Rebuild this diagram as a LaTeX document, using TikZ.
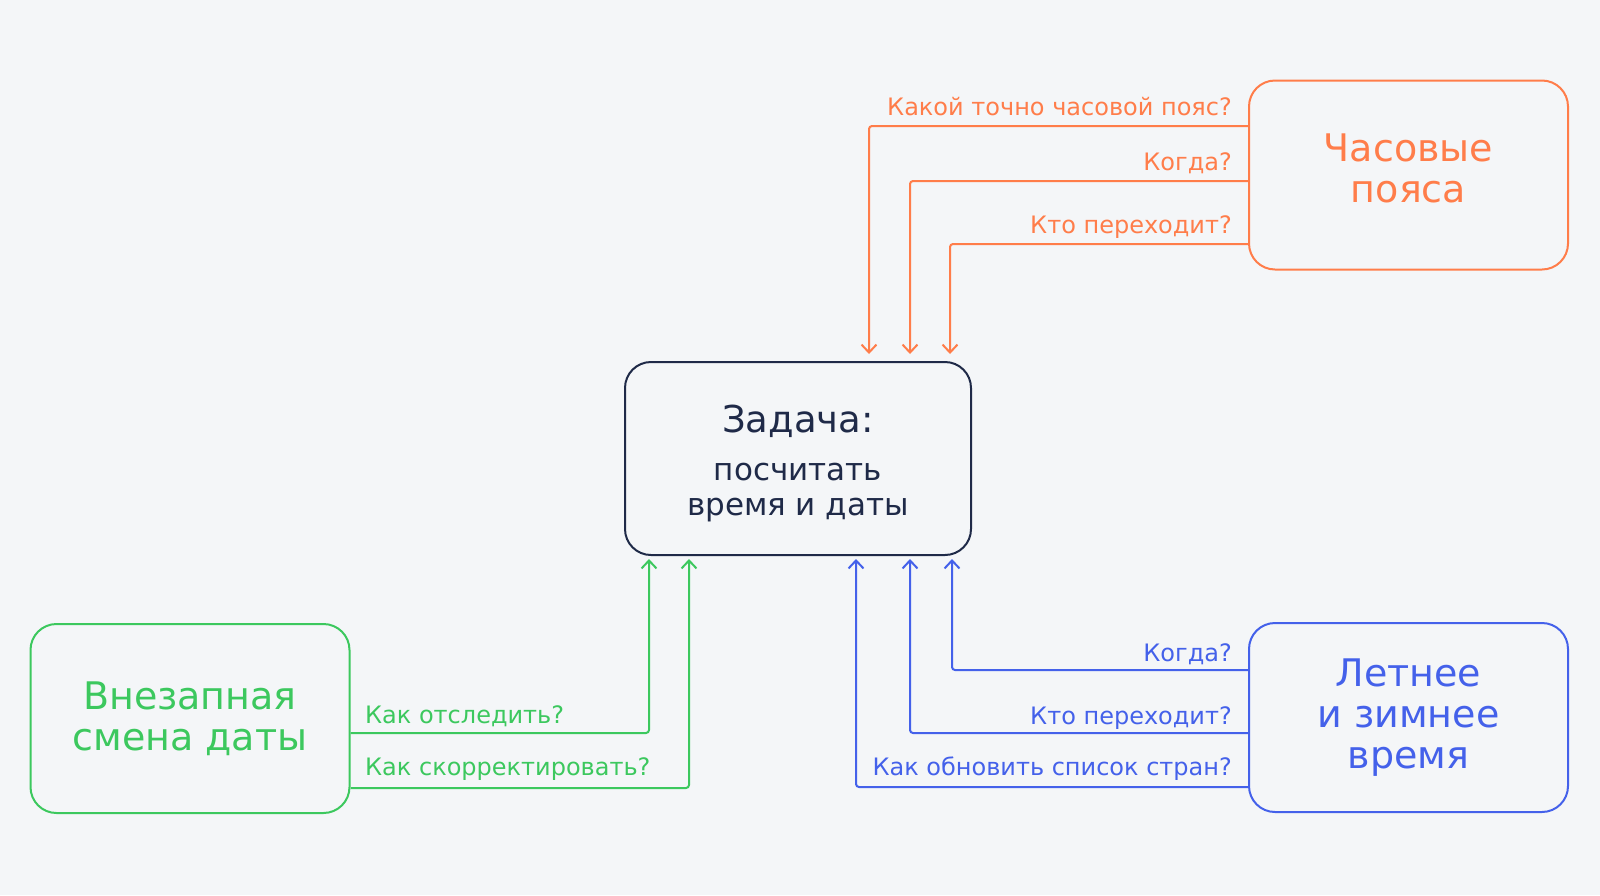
\documentclass[tikz,border=0pt]{standalone}
\usepackage{fontspec}
\setmainfont{DejaVu Sans}
\usetikzlibrary{arrows.meta}
\definecolor{bgray}{HTML}{F4F6F8}
\definecolor{navy}{HTML}{1F2A48}
\definecolor{orng}{HTML}{FF7D4A}
\definecolor{blu}{HTML}{4461EA}
\definecolor{grn}{HTML}{3CC85E}
\tikzset{
 box/.style={draw,line width=2pt,rounded corners=26pt,align=center,inner sep=0pt,
  minimum width=319pt,minimum height=189pt,font=\fontsize{38}{41}\selectfont},
 lbl/.style={inner sep=0pt,font=\fontsize{24}{24}\selectfont},
 link/.style={line width=2pt,rounded corners=3pt,-{Straight Barb[length=8pt,width=15pt]}}
}
\begin{document}
\begin{tikzpicture}[x=1pt,y=-1pt]
 \fill[bgray] (0,0) rectangle (1600,895);
 \useasboundingbox (0,0) rectangle (1600,895);
 \node[box,navy,minimum width=346pt,minimum height=193pt,font=\fontsize{31}{35}\selectfont]
  (task) at (798,458.5) {{\fontsize{37}{37}\selectfont\rule{0pt}{37pt}Задача:}\\[13pt]посчитать\\время и даты};
 \node[box,orng] (tz) at (1408.5,175) {Часовые\\пояса\rule[-13pt]{0pt}{0pt}};
 \node[box,blu] (dst) at (1408.5,717.5) {Летнее\\и зимнее\\время};
 \node[box,grn] (jmp) at (190,718.5) {Внезапная\\смена даты};
 % questions
 \node[lbl,orng,anchor=base east] (tz1) at (1232,115) {Какой точно часовой пояс?};
 \node[lbl,orng,anchor=base east] (tz2) at (1232,170) {Когда?};
 \node[lbl,orng,anchor=base east] (tz3) at (1232,233) {Кто переходит?};
 \node[lbl,blu,anchor=base east] (dst1) at (1232,661) {Когда?};
 \node[lbl,blu,anchor=base east] (dst2) at (1232,724) {Кто переходит?};
 \node[lbl,blu,anchor=base east] (dst3) at (1232,775) {Как обновить список стран?};
 \node[lbl,grn,anchor=base west] (jmp1) at (365,723) {Как отследить?};
 \node[lbl,grn,anchor=base west] (jmp2) at (365,775) {Как скорректировать?};
 % links
 \draw[link,orng,shorten >=7pt] (tz.west |- 0,126) -| (task.north -| 869,0);
 \draw[link,orng,shorten >=7pt] (tz.west |- 0,181) -| (task.north -| 910,0);
 \draw[link,orng,shorten >=7pt] (tz.west |- 0,244) -| (task.north -| 950,0);
 \draw[link,blu,shorten >=3pt] (dst.west |- 0,670) -| (task.south -| 952,0);
 \draw[link,blu,shorten >=3pt] (dst.west |- 0,733) -| (task.south -| 910,0);
 \draw[link,blu,shorten >=3pt] (dst.west |- 0,787) -| (task.south -| 856,0);
 \draw[link,grn,shorten >=3pt] (jmp.east |- 0,733) -| (task.south -| 649,0);
 \draw[link,grn,shorten >=3pt] (jmp.east |- 0,788) -| (task.south -| 689,0);
\end{tikzpicture}
\end{document}
